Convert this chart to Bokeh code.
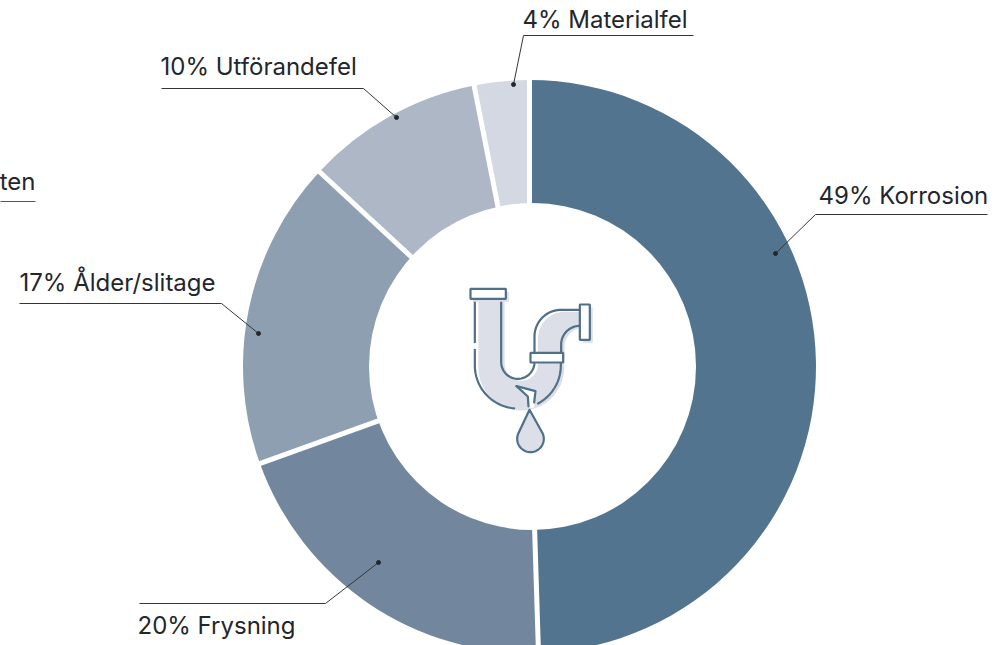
import numpy as np
from bokeh.plotting import figure
from bokeh.core.properties import value
from bokeh.embed import file_html
from bokeh.resources import INLINE

labels = ["49% Korrosion", "20% Frysning", "17% Ålder/slitage", "10% Utförandefel", "4% Materialfel"]
shares = [49.5, 20.0, 17.4, 10.0, 3.1]
colors = ["#53748e", "#72879e", "#8e9fb1", "#aeb7c6", "#d3d8e2"]
cut_label = "ten"

W, H = 1007, 645
CX, CY, RO, RI = 529, 366, 286.5, 163.5
FONT = "Inter"
FS = "24px"
BASE = 9.5
INK = "#23262b"
LINE = "#4f7089"
FILL = "#dcdfe7"

p = figure(width=W + 8, height=H + 8, x_range=(-8, W), y_range=(0, H + 8), output_backend="svg",
           toolbar_location=None, min_border=0, outline_line_color=None,
           margin=(-8, 0, 0, -8))
p.axis.visible = False
p.grid.visible = False

def Y(y):
    return H - np.asarray(y, dtype=float)

# donut slices, clockwise from the top
edges = np.cumsum([0] + shares) / 100 * 2 * np.pi
start = np.pi / 2 - edges[1:]
end = np.pi / 2 - edges[:-1]
p.annular_wedge(x=CX, y=Y(CY), inner_radius=RI - 20, outer_radius=RO, start_angle=start, end_angle=end,
                fill_color=colors, line_color=None)
# white separators
for a in edges[:-1]:
    p.line([CX + (RI - 25) * np.sin(a), CX + (RO + 4) * np.sin(a)],
           Y([CY - (RI - 25) * np.cos(a), CY - (RO + 4) * np.cos(a)]),
           line_color="white", line_width=5)
# centre hole
p.circle(x=[CX + 3], y=Y([CY]), radius=RI, fill_color="white", line_color=None)

# labels: text x, baseline y, underline x0, x1, y, corner x, dot x, y
layout = [
    (818, 204, 815, 987, 214, 815, 775, 253),
    (137, 634, 139, 325, 603, 325, 378, 562),
    (19, 291, 19, 221, 303, 221, 258, 333),
    (160, 75, 161, 363, 88, 363, 396, 117),
    (522, 28, 523, 693, 35, 523, 513, 84),
]
for lab, (tx, ty, x0, x1, uy, cx, dx, dy) in zip(labels, layout):
    p.text([tx], Y([ty - BASE]), text=[lab], text_font=value(FONT), text_font_size=FS,
           text_color=INK, text_baseline="alphabetic")
    p.line([x0, x1], Y([uy, uy]), line_color="#333639", line_width=1.1)
    p.line([cx, dx], Y([uy, dy]), line_color="#333639", line_width=1)
    p.scatter([dx], Y([dy]), size=4, color="#23262b")

p.text([35], Y([190 - BASE]), text=[cut_label], text_font=value(FONT), text_font_size=FS,
       text_color=INK, text_baseline="alphabetic", text_align="right")
p.line([0, 35], Y([201, 201]), line_color="#55585c", line_width=1.1)

# pipe icon
def arc(cx, cy, r, a0, a1, n=24):
    t = np.radians(np.linspace(a0, a1, n))
    return np.c_[cx + r * np.cos(t), cy + r * np.sin(t)]

def seg(*pts):
    return np.array(pts, dtype=float)

def page(a, dx=0.0, dy=0.0):
    a = np.asarray(a, dtype=float)
    return 440 + a[:, 0] / 3 + dx, Y(270 + a[:, 1] / 3 + dy)

body = np.vstack([seg((103, 85)), arc(232, 285, 129, 180, 0), seg((362, 225)), arc(418, 222, 56, 180, 270),
                  seg((418, 118), (362, 118)), arc(362, 198, 80, 270, 180), seg((282, 275)),
                  arc(232, 275, 50, 0, 180), seg((182, 85))])
bx, by = page(body, dx=3.5, dy=2)
p.patch(bx, by, fill_color=FILL, line_color=None)

def rect(x0, y0, x1, y1, shift=True):
    if shift:
        bx, by = page(seg((x0, y0), (x1, y0), (x1, y1), (x0, y1)), dx=3, dy=3)
        p.patch(bx, by, fill_color=FILL, line_color=None)
    bx, by = page(seg((x0, y0), (x1, y0), (x1, y1), (x0, y1)))
    p.patch(bx, by, fill_color="white", line_color=LINE, line_width=2.2)

def stroke(a):
    x, y = page(a)
    p.line(x, y, line_color=LINE, line_width=2.2, line_cap="round", line_join="round")

# white crack wedge inside the pipe
p.patch(*page(seg((228, 347), (285, 362), (281, 412), (264, 412), (262, 378))), fill_color="white", line_color=None)
# pipe outline pieces
stroke(seg((103, 85), (103, 215)))
stroke(np.vstack([seg((103, 238)), arc(232, 285, 129, 180, 95)]))
stroke(np.vstack([arc(232, 285, 129, 62, 0), seg((361, 276))]))
stroke(np.vstack([seg((182, 85)), arc(232, 275, 50, 180, 0), seg((282, 247))]))
stroke(np.vstack([seg((282, 247)), arc(362, 198, 80, 180, 270), seg((418, 118))]))
stroke(np.vstack([seg((362, 247)), arc(418, 222, 56, 180, 270)]))
stroke(seg((228, 347), (262, 378), (264, 408)))
stroke(seg((228, 347), (285, 362), (281, 396)))
# flanges and collar
rect(90, 55, 196, 85)
rect(418, 102, 448, 208)
rect(270, 247, 368, 276, shift=False)
# drop
drop = np.vstack([seg((267, 418)), arc(270, 505, 40, -25, 205), seg((267, 418))])
x, y = page(drop)
p.patch(x, y, fill_color=FILL, line_color=LINE, line_width=2.2, line_join="round")

open("out.html", "w").write(file_html(p, INLINE))
